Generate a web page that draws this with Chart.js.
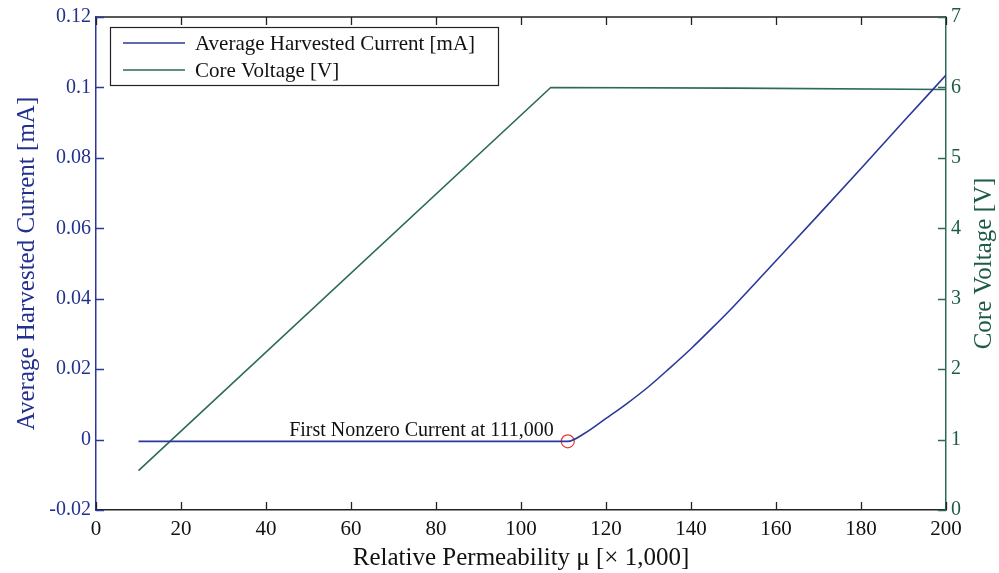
<!DOCTYPE html>
<html>
<head>
<meta charset="utf-8">
<script src="https://cdn.jsdelivr.net/npm/chart.js@4/dist/chart.umd.min.js"></script>
<style>
  html, body { margin: 0; padding: 0; background: #fff; }
  canvas { display: block; }
</style>
</head>
<body>
<canvas id="perm-chart" width="999" height="573"></canvas>
<script>
// relative permeability (x 1,000) and the two measured quantities
const muCurrent = [10, 20, 30, 40, 50, 60, 70, 80, 90, 100, 110, 111, 115, 120, 125, 130, 135, 140, 145, 150, 160, 170, 180, 190, 200];
const current = [-0.0005, -0.0005, -0.0005, -0.0005, -0.0005, -0.0005, -0.0005, -0.0005, -0.0005, -0.0005, -0.0005, -0.0005,
                 0.0018, 0.0060, 0.0103, 0.0150, 0.0203, 0.0258, 0.0317, 0.0378, 0.0508, 0.0638, 0.0770, 0.0903, 0.1035];
const muVoltage = [10, 107, 150, 200];
const voltage = [0.56, 6.0, 5.99, 5.97];

const xTicks = { min: 0, max: 200, step: 20 };
const currentTicks = { min: -0.02, max: 0.12, step: 0.02 };
const voltageTicks = { min: 0, max: 7, step: 1 };

const firstNonzeroMu = 111;
const firstNonzeroIdx = muCurrent.indexOf(firstNonzeroMu);
const noteText = 'First Nonzero Current at 111,000';
const voltageTitle = 'Core Voltage [V]';

const blue = '#2b389a';
const blueText = '#22308f';
const green = '#2d6a5a';
const greenText = '#1e5a48';
const serif = "'Liberation Serif', 'Times New Roman', serif";

function toPoints(xs, ys) {
    return xs.map((x, i) => ({ x: x, y: ys[i] }));
}

// inward tick marks on all four sides, plus the top frame line
const innerTicks = {
    id: 'innerTicks',
    afterDraw(chart) {
        const { ctx, chartArea: a, scales } = chart;
        const len = 8;
        ctx.save();
        ctx.lineWidth = 1.3;

        ctx.strokeStyle = '#222';
        ctx.beginPath();
        ctx.moveTo(a.left, a.top);
        ctx.lineTo(a.right, a.top);
        scales.x.ticks.forEach(t => {
            const px = Math.round(scales.x.getPixelForValue(t.value)) + 0.5;
            ctx.moveTo(px, a.bottom);
            ctx.lineTo(px, a.bottom - len);
            ctx.moveTo(px, a.top);
            ctx.lineTo(px, a.top + len);
        });
        ctx.stroke();

        ctx.strokeStyle = blue;
        ctx.beginPath();
        scales.y.ticks.forEach(t => {
            const py = Math.round(scales.y.getPixelForValue(t.value)) + 0.5;
            ctx.moveTo(a.left, py);
            ctx.lineTo(a.left + len, py);
        });
        ctx.stroke();

        ctx.strokeStyle = green;
        ctx.beginPath();
        scales.y1.ticks.forEach(t => {
            const py = Math.round(scales.y1.getPixelForValue(t.value)) + 0.5;
            ctx.moveTo(a.right, py);
            ctx.lineTo(a.right - len, py);
        });
        ctx.stroke();
        ctx.restore();
    }
};

// boxed legend, the note beside the marker, and the right axis title read bottom-up
const boxLegend = {
    id: 'boxLegend',
    afterDraw(chart) {
        const { ctx, chartArea: a } = chart;
        const items = chart.data.datasets.slice(0, 2);
        const x0 = a.left + 14, y0 = a.top + 10;
        const w = 388, rowH = 27;
        ctx.save();
        ctx.fillStyle = '#fff';
        ctx.fillRect(x0, y0, w, rowH * items.length + 4);
        ctx.strokeStyle = '#222';
        ctx.lineWidth = 1.2;
        ctx.strokeRect(x0 + 0.5, y0 + 0.5, w, rowH * items.length + 4);
        ctx.font = '21px ' + serif;
        ctx.textBaseline = 'middle';
        items.forEach((ds, i) => {
            const cy = y0 + 16 + i * rowH;
            ctx.strokeStyle = ds.borderColor;
            ctx.lineWidth = 1.5;
            ctx.beginPath();
            ctx.moveTo(x0 + 13, cy);
            ctx.lineTo(x0 + 75, cy);
            ctx.stroke();
            ctx.fillStyle = '#111';
            ctx.fillText(ds.label, x0 + 85, cy + 1);
        });

        const mx = chart.scales.x.getPixelForValue(firstNonzeroMu);
        const my = chart.scales.y.getPixelForValue(current[firstNonzeroIdx]);
        ctx.font = '20px ' + serif;
        ctx.textAlign = 'right';
        ctx.textBaseline = 'alphabetic';
        ctx.fillStyle = '#111';
        ctx.fillText(noteText, mx - 14, my - 5);

        const y1 = chart.scales.y1;
        ctx.translate(y1.right - 15, (a.top + a.bottom) / 2);
        ctx.rotate(-Math.PI / 2);
        ctx.font = '25px ' + serif;
        ctx.textAlign = 'center';
        ctx.textBaseline = 'middle';
        ctx.fillStyle = greenText;
        ctx.fillText(voltageTitle, 0, 0);
        ctx.restore();
    }
};

const ctx = document.getElementById('perm-chart').getContext('2d');

new Chart(ctx, {
    type: 'line',
    data: {
        datasets: [
            {
                label: 'Average Harvested Current [mA]',
                data: toPoints(muCurrent, current),
                borderColor: blue,
                borderWidth: 1.6,
                pointRadius: 0,
                cubicInterpolationMode: 'monotone',
                yAxisID: 'y'
            },
            {
                label: voltageTitle,
                data: toPoints(muVoltage, voltage),
                borderColor: green,
                borderWidth: 1.6,
                pointRadius: 0,
                tension: 0,
                yAxisID: 'y1'
            },
            {
                label: 'first nonzero',
                data: [{ x: muCurrent[firstNonzeroIdx], y: current[firstNonzeroIdx] }],
                showLine: false,
                pointRadius: 6.5,
                pointBorderWidth: 1.2,
                pointBorderColor: '#e23a3a',
                pointBackgroundColor: 'rgba(0,0,0,0)',
                yAxisID: 'y'
            }
        ]
    },
    options: {
        responsive: false,
        animation: false,
        devicePixelRatio: 1,
        layout: { padding: { top: 17, left: 0, right: 0, bottom: 0 } },
        plugins: {
            legend: { display: false },
            tooltip: { enabled: false }
        },
        scales: {
            x: {
                type: 'linear',
                min: xTicks.min,
                max: xTicks.max,
                grid: { display: false, drawTicks: false, tickLength: 0 },
                border: { display: true, color: '#222', width: 1.5 },
                ticks: {
                    stepSize: xTicks.step,
                    color: '#111',
                    font: { family: serif, size: 21 },
                    padding: 7,
                    maxRotation: 0
                },
                title: {
                    display: true,
                    text: 'Relative Permeability \u03bc [\u00d7 1,000]',
                    color: '#111',
                    font: { family: serif, size: 25 },
                    padding: { top: 0, bottom: 0 }
                },
                afterFit: scale => { scale.height = 63; }
            },
            y: {
                type: 'linear',
                position: 'left',
                min: currentTicks.min,
                max: currentTicks.max,
                grid: { display: false, drawTicks: false, tickLength: 0 },
                border: { display: true, color: blue, width: 1.5 },
                ticks: {
                    stepSize: currentTicks.step,
                    color: blueText,
                    font: { family: serif, size: 20 },
                    padding: 5,
                    callback: v => String(+v.toFixed(2))
                },
                title: {
                    display: true,
                    text: 'Average Harvested Current [mA]',
                    color: blueText,
                    font: { family: serif, size: 25 },
                    padding: { top: 12, bottom: 0 }
                },
                afterFit: scale => { scale.width = 96; }
            },
            y1: {
                type: 'linear',
                position: 'right',
                min: voltageTicks.min,
                max: voltageTicks.max,
                grid: { display: false, drawTicks: false, tickLength: 0 },
                border: { display: true, color: green, width: 1.5 },
                ticks: {
                    stepSize: voltageTicks.step,
                    color: greenText,
                    font: { family: serif, size: 20 },
                    padding: 5
                },
                afterFit: scale => { scale.width = 53; }
            }
        }
    },
    plugins: [innerTicks, boxLegend]
});
</script>
</body>
</html>
